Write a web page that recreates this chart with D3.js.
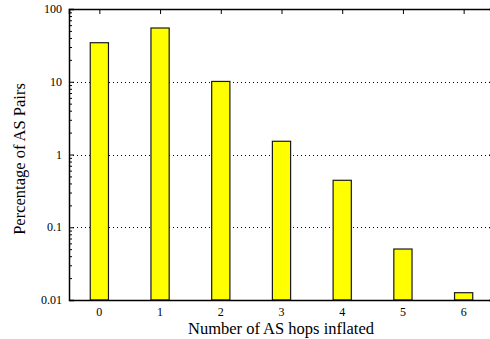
<!DOCTYPE html>
<html>
<head>
<meta charset="utf-8">
<script src="https://cdn.jsdelivr.net/npm/d3@7"></script>
<style>
	body { margin: 0; background: #fff; }
	svg { display: block; }
	svg text { font-family: "Liberation Serif", "Times New Roman", serif; }
</style>
</head>
<body>
<div id="chart"></div>
<script>
// data
var hops = [0, 1, 2, 3, 4, 5, 6];
var percent = [34.4, 54.8, 10.1, 1.52, 0.442, 0.0502, 0.0126];
var yTicks = [0.01, 0.1, 1, 10, 100];
var gridTicks = [0.1, 1, 10];

var width = 490;
var height = 339;
var margin = { top: 9, right: -4, bottom: 39, left: 69 };

var svg = d3
	.select("#chart")
	.append("svg")
	.attr("width", width)
	.attr("height", height);

var x = d3
	.scaleLinear()
	.domain([-0.5, 6.5])
	.range([margin.left, width - margin.right]);
var y = d3
	.scaleLog()
	.domain([0.01, 100])
	.range([height - margin.bottom, margin.top]);

var x0 = margin.left, x1 = width - margin.right;
var y0 = height - margin.bottom, y1 = margin.top;

// dotted grid lines
svg
	.append("g")
	.selectAll("line")
	.data(gridTicks)
	.enter()
	.append("line")
	.attr("x1", x0)
	.attr("x2", x1)
	.attr("y1", (d) => Math.round(y(d)) + 0.5)
	.attr("y2", (d) => Math.round(y(d)) + 0.5)
	.attr("stroke", "#000")
	.attr("stroke-width", 1)
	.attr("stroke-dasharray", "1,3");

// bars
var barW = x(0.3) - x(0);
svg
	.append("g")
	.selectAll("rect")
	.data(hops)
	.enter()
	.append("rect")
	.attr("x", (d) => x(d) - barW / 2)
	.attr("y", (d, i) => y(percent[i]))
	.attr("width", barW)
	.attr("height", (d, i) => y0 - y(percent[i]))
	.attr("fill", "#ffff00")
	.attr("stroke", "#1a1a1a")
	.attr("stroke-width", 1.2);

// left axis, ticks inward with minor ticks
var minor = [];
for (var e = -2; e < 2; e++) {
	for (var m = 2; m <= 9; m++) minor.push(m * Math.pow(10, e));
}
var yAxis = d3
	.axisRight(y)
	.tickValues(yTicks)
	.tickSize(5)
	.tickFormat("");
svg.append("g").attr("transform", `translate(${x0},0)`).call(yAxis);
svg
	.append("g")
	.attr("transform", `translate(${x0},0)`)
	.call(d3.axisRight(y).tickValues(minor).tickSize(3).tickFormat(""))
	.call((g) => g.select(".domain").remove());
// right side ticks
svg
	.append("g")
	.attr("transform", `translate(${x1},0)`)
	.call(d3.axisLeft(y).tickValues(yTicks).tickSize(5).tickFormat(""));
svg
	.append("g")
	.attr("transform", `translate(${x1},0)`)
	.call(d3.axisLeft(y).tickValues(minor).tickSize(3).tickFormat(""))
	.call((g) => g.select(".domain").remove());

// y tick labels
svg
	.append("g")
	.selectAll("text")
	.data(yTicks)
	.enter()
	.append("text")
	.attr("x", x0 - 7)
	.attr("y", (d) => y(d))
	.attr("dy", "0.35em")
	.attr("text-anchor", "end")
	.attr("font-size", "12px")
	.text((d) => d3.format("~g")(d));

// top axis with ticks down
svg
	.append("g")
	.attr("transform", `translate(0,${y1})`)
	.call(d3.axisBottom(x).tickValues(hops).tickSize(5).tickFormat(""));

// bottom axis, labels drawn as plain text
svg
	.append("g")
	.attr("transform", `translate(0,${y0})`)
	.call(d3.axisBottom(x).tickValues(hops).tickSize(0).tickFormat(""));
svg
	.append("g")
	.selectAll("text")
	.data(hops)
	.enter()
	.append("text")
	.attr("x", (d) => x(d))
	.attr("y", 316)
	.attr("text-anchor", "middle")
	.attr("font-size", "12px")
	.text((d) => d);

svg.selectAll(".domain").attr("stroke-width", 1.5);

// axis titles
svg
	.append("text")
	.attr("text-anchor", "middle")
	.attr("x", 281)
	.attr("y", 333.5)
	.attr("font-size", "16.5px")
	.text("Number of AS hops inflated");
svg
	.append("text")
	.attr("text-anchor", "middle")
	.attr("transform", "rotate(-90)")
	.attr("x", -159)
	.attr("y", 25)
	.attr("font-size", "16.5px")
	.text("Percentage of AS Pairs");
</script>
</body>
</html>
